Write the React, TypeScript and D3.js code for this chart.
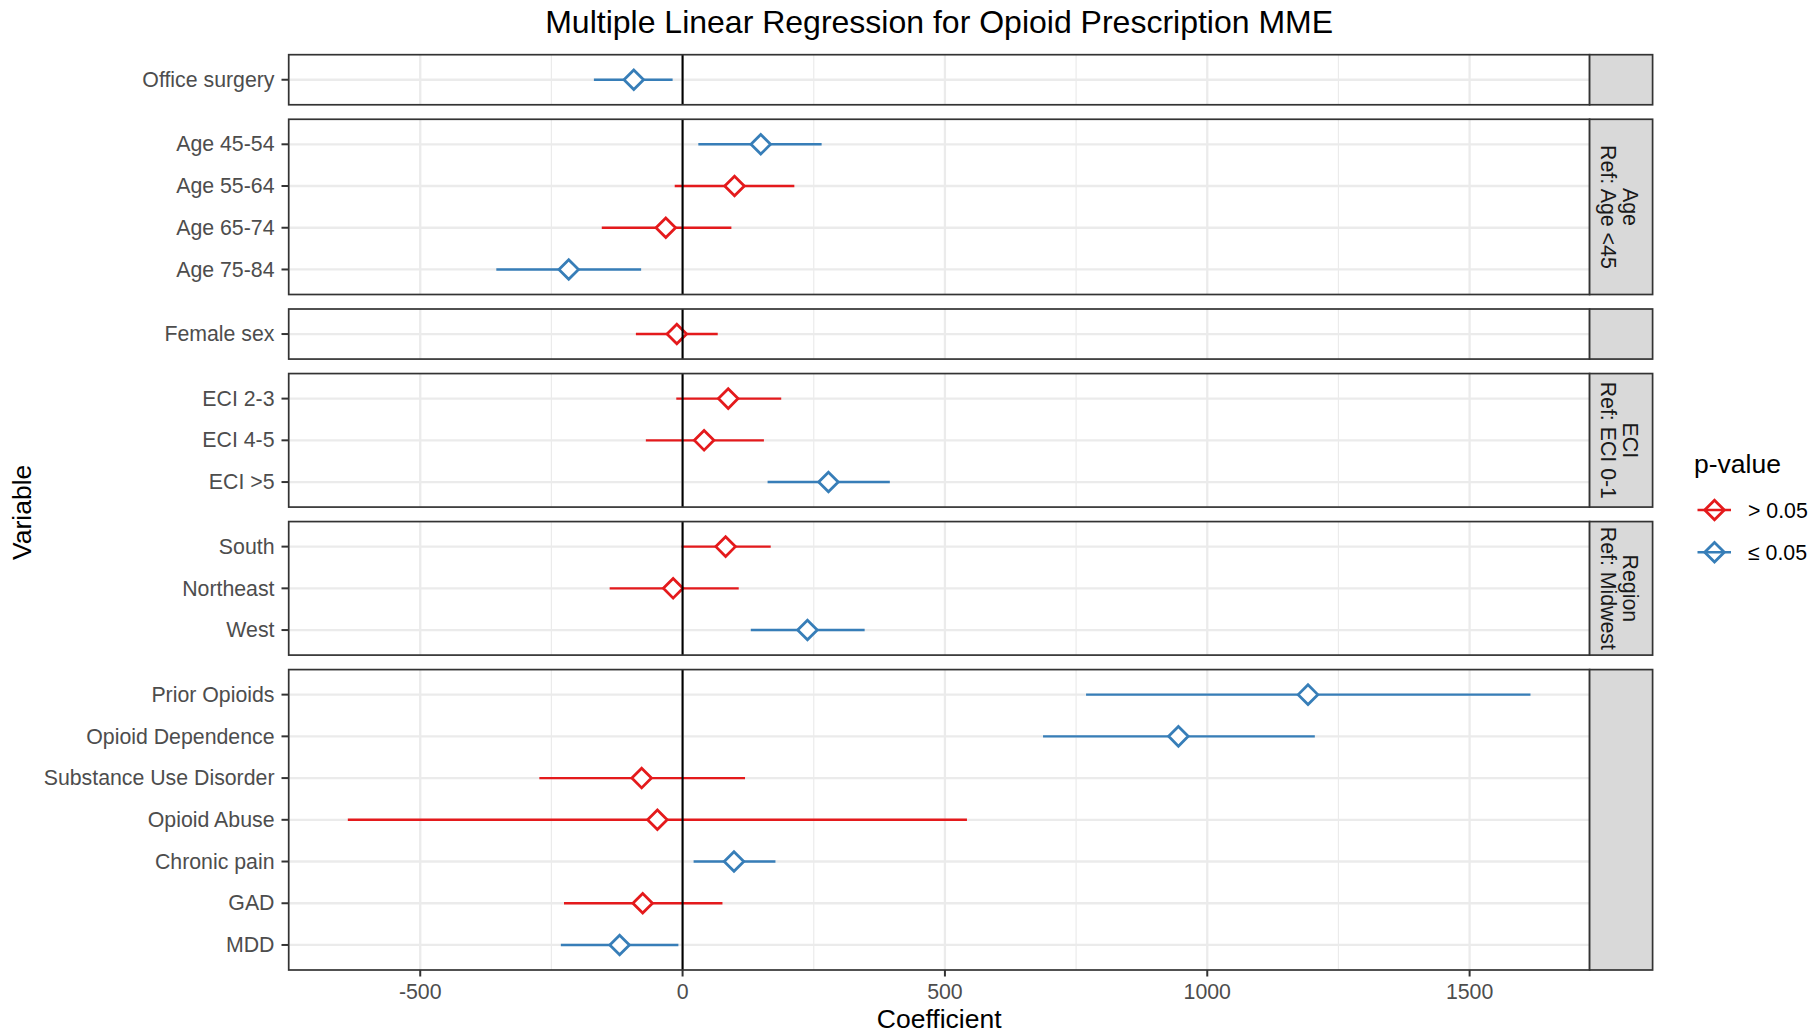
import React from 'react';
import * as d3 from 'd3';

// values
const variables = [
  'Office surgery',
  'Age 45-54', 'Age 55-64', 'Age 65-74', 'Age 75-84',
  'Female sex',
  'ECI 2-3', 'ECI 4-5', 'ECI >5',
  'South', 'Northeast', 'West',
  'Prior Opioids', 'Opioid Dependence', 'Substance Use Disorder', 'Opioid Abuse',
  'Chronic pain', 'GAD', 'MDD',
];
const coefficients = [-93, 149, 99, -32, -217, -11, 87, 41, 278, 82, -18, 238, 1192, 945, -78, -48, 98, -76, -120];
const lowerCI = [-169, 30, -15, -154, -355, -89, -12, -70, 162, -2, -139, 130, 769, 687, -273, -638, 21, -226, -232];
const upperCI = [-19, 265, 213, 93, -79, 67, 188, 155, 395, 168, 107, 347, 1616, 1205, 119, 542, 177, 76, -8];
const significant = [true, true, false, false, true, false, false, false, true, false, false, true, true, true, false, false, true, false, true];
const groupOf = [0, 1, 1, 1, 1, 2, 3, 3, 3, 4, 4, 4, 5, 5, 5, 5, 5, 5, 5];
const stripLabels = [[], ['Age', 'Ref: Age <45'], [], ['ECI', 'Ref: ECI 0-1'], ['Region', 'Ref: Midwest'], []];
const legendLabels = ['> 0.05', '≤ 0.05'];

const RED = '#E41A1C';
const BLUE = '#377EB8';
const FONT = '"Liberation Sans", Arial, Helvetica, sans-serif';

const W = 1814;
const H = 1032;
const left = 288.7;
const right = 1589.6;
const stripW = 63;
const plotTop = 54.7;
const plotBottom = 970;
const gap = 14.5;
const small = 21.3;
const large = 26.5;

function Diamond({ x, y, color, fill }: { x: number; y: number; color: string; fill: string }) {
  const r = 9.8;
  return (
    <path
      d={`M${x},${y - r}L${x + r},${y}L${x},${y + r}L${x - r},${y}Z`}
      fill={fill}
      stroke={color}
      strokeWidth={2.8}
      strokeLinejoin="miter"
    />
  );
}

export default function App() {
  const lo = d3.min(lowerCI)!;
  const hi = d3.max(upperCI)!;
  const pad = (hi - lo) * 0.05;
  const x = d3.scaleLinear().domain([lo - pad, hi + pad]).range([left, right]);
  const majors = x.ticks(5);
  const minors = majors.map(t => t - 250).concat([majors[majors.length - 1] + 250])
    .filter(t => t > x.domain()[0] && t < x.domain()[1]);

  // panel heights follow the number of rows (free space facets)
  const counts = stripLabels.map((_, g) => groupOf.filter(v => v === g).length);
  const totalUnits = d3.sum(counts, c => c + 0.2);
  const unit = (plotBottom - plotTop - gap * (counts.length - 1)) / totalUnits;
  const panels: { top: number; bottom: number; rows: number[] }[] = [];
  let cursor = plotTop;
  counts.forEach((c, g) => {
    const h = (c + 0.2) * unit;
    panels.push({ top: cursor, bottom: cursor + h, rows: variables.map((_, i) => i).filter(i => groupOf[i] === g) });
    cursor += h + gap;
  });

  return (
    <svg width={W} height={H} style={{ position: 'absolute', left: 0, top: 0, background: '#fff' }} fontFamily={FONT}>
      <rect width={W} height={H} fill="#fff" />
      <text x={(left + right) / 2} y={33} textAnchor="middle" fontSize={32} fill="#000">
        Multiple Linear Regression for Opioid Prescription MME
      </text>

      {panels.map((p, g) => {
        const rowY = (k: number) => p.top + (0.6 + k) * unit;
        const mid = (p.top + p.bottom) / 2;
        return (
          <g key={g}>
            <rect x={left} y={p.top} width={right - left} height={p.bottom - p.top} fill="#fff" />
            {minors.map(t => (
              <line key={'mn' + t} x1={x(t)} x2={x(t)} y1={p.top} y2={p.bottom} stroke="#EBEBEB" strokeWidth={1.2} />
            ))}
            {majors.map(t => (
              <line key={'mj' + t} x1={x(t)} x2={x(t)} y1={p.top} y2={p.bottom} stroke="#EBEBEB" strokeWidth={2.3} />
            ))}
            {p.rows.map((i, k) => (
              <line key={'h' + i} x1={left} x2={right} y1={rowY(k)} y2={rowY(k)} stroke="#EBEBEB" strokeWidth={2.3} />
            ))}
            {p.rows.map((i, k) => {
              const c = significant[i] ? BLUE : RED;
              return (
                <g key={'pt' + i}>
                  <line x1={x(lowerCI[i])} x2={x(upperCI[i])} y1={rowY(k)} y2={rowY(k)} stroke={c} strokeWidth={2.4} />
                  <Diamond x={x(coefficients[i])} y={rowY(k)} color={c} fill="#fff" />
                </g>
              );
            })}
            <line x1={x(0)} x2={x(0)} y1={p.top} y2={p.bottom} stroke="#000" strokeWidth={2.1} />
            <rect x={left} y={p.top} width={right - left} height={p.bottom - p.top} fill="none" stroke="#333" strokeWidth={1.7} />

            {/* y axis ticks and labels */}
            {p.rows.map((i, k) => (
              <g key={'yl' + i}>
                <line x1={281.5} x2={left} y1={rowY(k)} y2={rowY(k)} stroke="#333" strokeWidth={2} />
                <text x={274.5} y={rowY(k) - 0.5} dy="0.36em" textAnchor="end" fontSize={small} fill="#4D4D4D">
                  {variables[i]}
                </text>
              </g>
            ))}

            {/* facet strip */}
            <rect x={right} y={p.top} width={stripW} height={p.bottom - p.top} fill="#D9D9D9" stroke="#333" strokeWidth={1.7} />
            <g transform={`translate(${right + stripW / 2 - 1.5},${mid}) rotate(90)`}>
              {stripLabels[g].map((s, j) => (
                <text key={j} x={0} y={(j - (stripLabels[g].length - 1) / 2) * 22.3} dy="0.36em" textAnchor="middle" fontSize={small} fill="#1A1A1A">
                  {s}
                </text>
              ))}
            </g>
          </g>
        );
      })}

      {/* x axis */}
      {majors.map(t => (
        <g key={'xt' + t}>
          <line x1={x(t)} x2={x(t)} y1={plotBottom} y2={plotBottom + 6.5} stroke="#333" strokeWidth={2} />
          <text x={x(t)} y={998.5} textAnchor="middle" fontSize={small} fill="#4D4D4D">
            {t}
          </text>
        </g>
      ))}
      <text x={(left + right) / 2} y={1027.5} textAnchor="middle" fontSize={large} fill="#000">
        Coefficient
      </text>
      <text transform={`translate(31,${(plotTop + plotBottom) / 2}) rotate(-90)`} textAnchor="middle" fontSize={large} fill="#000">
        Variable
      </text>

      {/* legend */}
      <text x={1694} y={473.3} fontSize={large} fill="#000">p-value</text>
      {legendLabels.map((s, j) => {
        const cy = 510 + j * 42.3;
        const c = j === 0 ? RED : BLUE;
        return (
          <g key={s}>
            <line x1={1697.5} x2={1731} y1={cy} y2={cy} stroke={c} strokeWidth={2.4} />
            <Diamond x={1714.5} y={cy} color={c} fill="none" />
            <text x={1748} y={cy} dy="0.36em" fontSize={small} fill="#000">{s}</text>
          </g>
        );
      })}
    </svg>
  );
}
